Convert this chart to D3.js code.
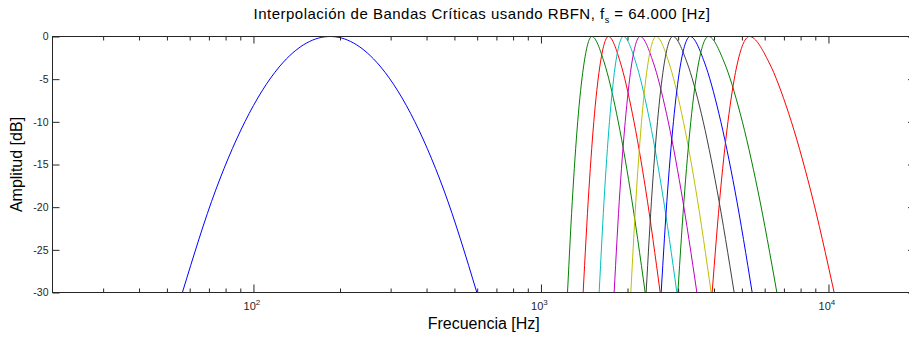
<!DOCTYPE html>
<html>
<head>
<meta charset="utf-8">
<script src="https://cdn.jsdelivr.net/npm/d3@7"></script>
<style>
  html, body { margin: 0; padding: 0; background: #fff; }
  svg { display: block; font-family: "Liberation Sans", Arial, sans-serif; }
</style>
</head>
<body>
<svg id="chart" width="909" height="339"></svg>
<script>
// Response levels (dB) sampled along each band: rising flank, peak, falling flank
const dbLevels = [-30, -18, -9, -3, 0, -3, -9, -18, -30];

// Frequencies (Hz) of each band at the levels above
const band01 = [56.6, 73.9, 96.7, 127.1, 184.9, 268.0, 351.9, 459.5, 598.4];
const band02 = [1237, 1292, 1350, 1414, 1503, 1658, 1832, 2045, 2304];
const band03 = [1402, 1468, 1536, 1611, 1717, 1887, 2079, 2315, 2598];
const band04 = [1594, 1666, 1741, 1821, 1936, 2135, 2360, 2636, 2970];
const band05 = [1797, 1883, 1976, 2073, 2213, 2456, 2732, 3071, 3486];
const band06 = [2054, 2150, 2251, 2360, 2516, 2783, 3086, 3458, 3908];
const band07 = [2322, 2437, 2559, 2689, 2876, 3217, 3611, 4097, 4699];
const band08 = [2619, 2759, 2909, 3069, 3304, 3701, 4157, 4725, 5428];
const band09 = [2994, 3164, 3344, 3539, 3825, 4337, 4931, 5677, 6615];
const band10 = [3940, 4214, 4511, 4833, 5312, 6205, 7271, 8664, 10467];

const bands = [band01, band02, band03, band04, band05, band06, band07, band08, band09, band10];

// Line colour cycle
const lineColors = ["#0000ff", "#008000", "#ff0000", "#00bfbf", "#bf00bf",
                    "#bfbf00", "#404040", "#0000ff", "#008000", "#ff0000"];

// Axis ticks
const xDomain = [20, 20000];
const yDomain = [-30, 0];
const xMajorExponents = [2, 3, 4];
const yTickValues = [0, -5, -10, -15, -20, -25, -30];

const titleMain = "Interpolación de Bandas Críticas usando RBFN, f";
const titleSub = "s";
const titleTail = " = 64.000 [Hz]";
const xLabel = "Frecuencia [Hz]";
const yLabel = "Amplitud [dB]";

const svg = d3.select("#chart");
const plotL = 52.5, plotR = 915, plotT = 36.5, plotB = 292.5;

const x = d3.scaleLog().domain(xDomain).range([plotL, plotR]);
const y = d3.scaleLinear().domain(yDomain).range([plotB, plotT]);

svg.append("defs").append("clipPath").attr("id", "plotClip")
  .append("rect").attr("x", plotL).attr("y", plotT)
  .attr("width", plotR - plotL).attr("height", plotB - plotT);

// Band curves
const line = d3.line()
  .x(d => x(d[0]))
  .y(d => y(d[1]))
  .curve(d3.curveMonotoneX);

svg.append("g").attr("clip-path", "url(#plotClip)")
  .selectAll("path")
  .data(bands)
  .join("path")
  .attr("d", f => line(f.map((hz, i) => [hz, dbLevels[i]])))
  .attr("fill", "none")
  .attr("stroke", (d, i) => lineColors[i])
  .attr("stroke-width", 1);

// Tick values on the log axis
const allX = x.ticks().filter(v => v > xDomain[0] && v < xDomain[1]);
const majorX = xMajorExponents.map(e => Math.pow(10, e));
const minorX = allX.filter(v => !majorX.includes(v));

const axisColor = "#262626";

function styleAxis(g) {
  g.select(".domain").remove();
  g.selectAll(".tick line").attr("stroke", axisColor).attr("stroke-width", 1);
  g.selectAll(".tick text").remove();
}

// bottom / top ticks, pointing inward
svg.append("g").attr("transform", `translate(0,${plotB})`)
  .call(d3.axisBottom(x).tickValues(minorX).tickSize(-4).tickFormat(""))
  .call(styleAxis);
svg.append("g").attr("transform", `translate(0,${plotB})`)
  .call(d3.axisBottom(x).tickValues(majorX).tickSize(-8).tickFormat(""))
  .call(styleAxis);
svg.append("g").attr("transform", `translate(0,${plotT})`)
  .call(d3.axisTop(x).tickValues(minorX).tickSize(-4).tickFormat(""))
  .call(styleAxis);
svg.append("g").attr("transform", `translate(0,${plotT})`)
  .call(d3.axisTop(x).tickValues(majorX).tickSize(-7).tickFormat(""))
  .call(styleAxis);

// left / right ticks
svg.append("g").attr("transform", `translate(${plotL},0)`)
  .call(d3.axisLeft(y).tickValues(yTickValues).tickSize(-7).tickFormat(""))
  .call(styleAxis);
svg.append("g").attr("transform", `translate(${plotR},0)`)
  .call(d3.axisRight(y).tickValues(yTickValues).tickSize(-7).tickFormat(""))
  .call(styleAxis);

// Box
svg.append("rect")
  .attr("x", plotL).attr("y", plotT)
  .attr("width", plotR - plotL).attr("height", plotB - plotT)
  .attr("fill", "none").attr("stroke", axisColor).attr("stroke-width", 1);

// Y tick labels
svg.append("g").selectAll("text")
  .data(yTickValues)
  .join("text")
  .attr("x", plotL - 4)
  .attr("y", d => y(d))
  .attr("dy", "0.35em")
  .attr("text-anchor", "end")
  .attr("font-size", 10.5)
  .attr("fill", axisColor)
  .text(d => d);

// X tick labels: 10 with superscript exponent
const xl = svg.append("g").selectAll("text")
  .data(xMajorExponents)
  .join("text")
  .attr("x", d => x(Math.pow(10, d)) - 1.5)
  .attr("y", 310)
  .attr("text-anchor", "middle")
  .attr("font-size", 11)
  .attr("fill", axisColor);
xl.append("tspan").text("10");
xl.append("tspan").attr("font-size", 8).attr("dy", -5).text(d => d);

// Title
const title = svg.append("text")
  .attr("x", 482)
  .attr("y", 18.5)
  .attr("text-anchor", "middle")
  .attr("font-size", 15)
  .attr("letter-spacing", 0.5)
  .attr("fill", "#000");
title.append("tspan").text(titleMain);
title.append("tspan").attr("font-size", 9).attr("dy", 4).text(titleSub);
title.append("tspan").attr("dy", -4).text(titleTail);

// Axis labels
svg.append("text")
  .attr("x", (plotL + plotR) / 2)
  .attr("y", 329)
  .attr("text-anchor", "middle")
  .attr("font-size", 16)
  .attr("fill", "#000")
  .text(xLabel);

svg.append("text")
  .attr("transform", `translate(21.5,${(plotT + plotB) / 2}) rotate(-90)`)
  .attr("text-anchor", "middle")
  .attr("font-size", 16)
  .attr("fill", "#000")
  .text(yLabel);
</script>
</body>
</html>
